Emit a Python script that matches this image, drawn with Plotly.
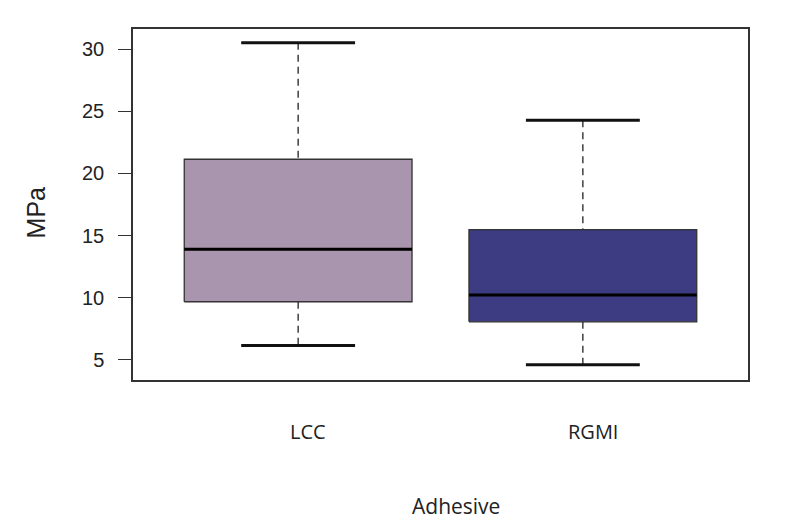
import plotly.graph_objects as go

categories = ["LCC", "RGMI"]
lower_whisker = [6.17, 4.61]
q1 = [9.68, 8.07]
median = [13.9, 10.22]
q3 = [21.14, 15.48]
upper_whisker = [30.5, 24.28]
fill_colors = ["#A995AD", "#3D3B81"]
y_ticks = [5, 10, 15, 20, 25, 30]

box_half = 0.4
cap_half = 0.2

fig = go.Figure()
for i, cat in enumerate(categories):
    x = i + 1
    # dashed whiskers
    for a, b in [(upper_whisker[i], q3[i]), (q1[i], lower_whisker[i])]:
        fig.add_trace(go.Scatter(x=[x, x], y=[a, b], mode="lines",
                                 line=dict(color="#222222", width=1.3, dash="7px,5px"),
                                 showlegend=False, hoverinfo="skip"))
    # caps
    for v in [upper_whisker[i], lower_whisker[i]]:
        fig.add_trace(go.Scatter(x=[x - cap_half, x + cap_half], y=[v, v], mode="lines",
                                 line=dict(color="#111111", width=3),
                                 showlegend=False, hoverinfo="skip"))
    # box
    fig.add_trace(go.Scatter(
        x=[x - box_half, x + box_half, x + box_half, x - box_half, x - box_half],
        y=[q1[i], q1[i], q3[i], q3[i], q1[i]],
        mode="lines", fill="toself", fillcolor=fill_colors[i],
        line=dict(color="#333333", width=1.3),
        showlegend=False, name=cat))
    # median
    fig.add_trace(go.Scatter(x=[x - box_half, x + box_half], y=[median[i], median[i]], mode="lines",
                             line=dict(color="#000000", width=3),
                             showlegend=False, hoverinfo="skip"))
    # category label
    fig.add_annotation(x=x, xref="x", xshift=10, y=-0.148, yref="paper",
                       text=cat, showarrow=False, yanchor="middle",
                       font=dict(family="Open Sans, sans-serif", size=20, color="#222222"))

fig.add_annotation(x=0.525, xref="paper", y=-0.359, yref="paper", text="Adhesive",
                   showarrow=False, yanchor="middle",
                   font=dict(family="Open Sans, sans-serif", size=21, color="#222222"))
fig.add_annotation(x=-0.158, xref="paper", y=0.477, yref="paper", text="MPa",
                   textangle=-90, showarrow=False, xanchor="center", yanchor="middle",
                   font=dict(family="Liberation Sans, Arial, sans-serif", size=25, color="#222222"))

fig.update_layout(
    width=792, height=520,
    margin=dict(l=125, r=52, t=21, b=148),
    paper_bgcolor="white", plot_bgcolor="white",
    xaxis=dict(range=[0.42, 2.58], showticklabels=False, ticks="", showgrid=False,
               zeroline=False, showline=True, mirror=True, linecolor="#333333", linewidth=1.5),
    yaxis=dict(range=[3.39, 31.61], tickvals=y_ticks, ticks="outside", ticklen=13,
               tickwidth=1.3, tickcolor="#333333", showgrid=False, zeroline=False,
               showline=True, mirror=True, linecolor="#333333", linewidth=1.5,
               ticklabelstandoff=10,
               tickfont=dict(family="Liberation Sans, Arial, sans-serif", size=20, color="#222222")),
)

fig.write_html("out.html")
